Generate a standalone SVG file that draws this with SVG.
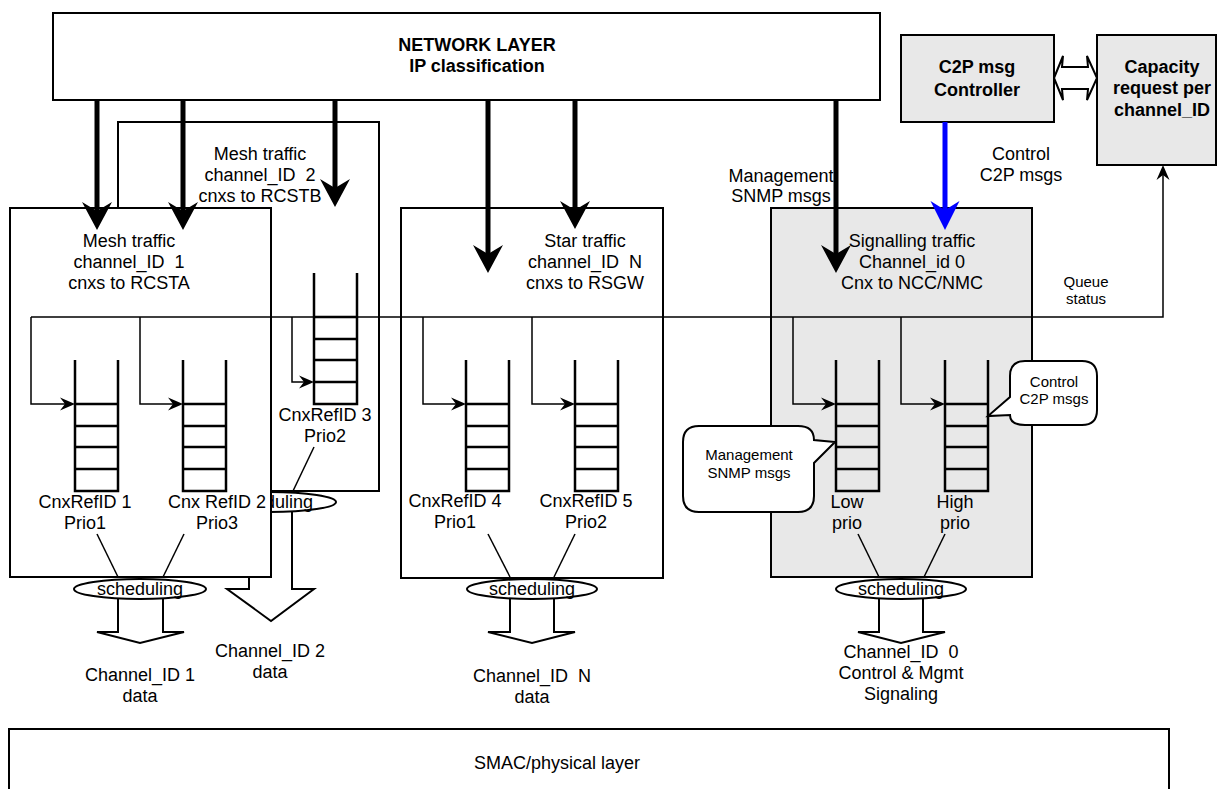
<svg xmlns="http://www.w3.org/2000/svg" width="1218" height="789" viewBox="0 0 1218 789">
<style>
text{font-family:"Liberation Sans",Arial,sans-serif;font-size:18px;fill:#000;text-anchor:middle}
.b{font-weight:bold}
.s{font-size:15px}
.box{fill:#fff;stroke:#000;stroke-width:2}
.grey{fill:#e8e8e8;stroke:#000;stroke-width:2}
.q{fill:none;stroke:#000;stroke-width:2.5}
.thin{fill:none;stroke:#000;stroke-width:1.5}
.heavy{fill:none;stroke:#000;stroke-width:5}
.blue{fill:none;stroke:#0000ff;stroke-width:5}
.ell{fill:#fff;stroke:#000;stroke-width:2}
.blk{fill:#fff;stroke:#000;stroke-width:2}
.lead{stroke:#000;stroke-width:1.5}
.call{fill:#fff;stroke:#000;stroke-width:2}
</style>
<defs>
<marker id="hv" markerUnits="userSpaceOnUse" orient="auto" overflow="visible" markerWidth="1" markerHeight="1"><path d="M8,0 L-20,-15 L-11,0 L-20,15 Z" fill="#000"/></marker>
<marker id="hb" markerUnits="userSpaceOnUse" orient="auto" overflow="visible" markerWidth="1" markerHeight="1"><path d="M8,0 L-21,-14.5 L-12,0 L-21,14.5 Z" fill="#0000ff"/></marker>
<marker id="th" markerUnits="userSpaceOnUse" orient="auto" overflow="visible" markerWidth="1" markerHeight="1"><path d="M4,0 L-11,-6.5 L-6,0 L-11,6.5 Z" fill="#000"/></marker>
<path id="queue" class="q" d="M0,0 V131 H43 V0 M0,44 H43 M0,66 H43 M0,87 H43 M0,109 H43"/>
<clipPath id="behind"><rect x="272" y="480" width="80" height="40"/></clipPath>
</defs>

<g id="smac">
<rect class="box" x="9" y="729" width="1160" height="80"/>
<text x="557" y="769">SMAC/physical layer</text>
</g>

<g id="network">
<rect class="box" x="53" y="13" width="827" height="87"/>
<text class="b" x="477" y="51">NETWORK LAYER</text>
<text class="b" x="477" y="72">IP classification</text>
</g>

<g id="c2p">
<rect class="grey" x="901" y="35" width="153" height="87"/>
<text class="b" x="977" y="73">C2P msg</text>
<text class="b" x="977" y="96">Controller</text>
</g>

<g id="capacity">
<rect class="grey" x="1097" y="35" width="119" height="130"/>
<text class="b" x="1162" y="73">Capacity</text>
<text class="b" x="1162" y="94">request per</text>
<text class="b" x="1162" y="116">channel_ID</text>
</g>

<g id="mesh2">
<rect class="box" x="118" y="122" width="261" height="369"/>
<text x="260" y="160">Mesh traffic</text>
<text x="260" y="181">channel_ID&#160; 2</text>
<text x="260" y="202">cnxs to RCSTB</text>
<use href="#queue" x="314" y="273"/>
<text x="325" y="421">CnxRefID 3</text>
<text x="325" y="442">Prio2</text>
<line class="lead" x1="314" y1="447" x2="293" y2="491"/>
<path class="blk" d="M249,512 V589 H227 L271,621 L314,589 H292 V512"/>
<ellipse class="ell" cx="270" cy="502" rx="66" ry="10"/>
<text x="270" y="508" clip-path="url(#behind)">scheduling</text>
</g>

<g id="mesh1">
<rect class="box" x="10" y="208" width="261" height="369"/>
<text x="129" y="247">Mesh traffic</text>
<text x="129" y="268">channel_ID&#160; 1</text>
<text x="129" y="289">cnxs to RCSTA</text>
<use href="#queue" x="75" y="360"/>
<use href="#queue" x="183" y="360"/>
<text x="85" y="508">CnxRefID 1</text>
<text x="85" y="529">Prio1</text>
<text x="217" y="508">Cnx RefID 2</text>
<text x="217" y="529">Prio3</text>
<line class="lead" x1="97" y1="534" x2="118" y2="577"/>
<line class="lead" x1="184" y1="534" x2="163" y2="577"/>
<path class="blk" d="M118,599 V632 H97 L140,643 L184,632 H163 V599"/>
<ellipse class="ell" cx="140" cy="589" rx="66" ry="10"/>
<text x="140" y="595">scheduling</text>
<text x="140" y="681">Channel_ID 1</text>
<text x="140" y="702">data</text>
<text x="270" y="657">Channel_ID 2</text>
<text x="270" y="678">data</text>
</g>

<g id="star">
<rect class="box" x="401" y="208" width="262" height="370"/>
<text x="585" y="247">Star traffic</text>
<text x="585" y="268">channel_ID&#160; N</text>
<text x="585" y="289">cnxs to RSGW</text>
<use href="#queue" x="466" y="360"/>
<use href="#queue" x="575" y="360"/>
<text x="455" y="507">CnxRefID 4</text>
<text x="455" y="528">Prio1</text>
<text x="586" y="507">CnxRefID 5</text>
<text x="586" y="528">Prio2</text>
<line class="lead" x1="488" y1="534" x2="510" y2="577"/>
<line class="lead" x1="575" y1="534" x2="554" y2="577"/>
<path class="blk" d="M510,599 V632 H488 L532,643 L575,632 H554 V599"/>
<ellipse class="ell" cx="532" cy="589" rx="65" ry="10"/>
<text x="532" y="595">scheduling</text>
<text x="532" y="682">Channel_ID&#160; N</text>
<text x="532" y="703">data</text>
</g>

<g id="signalling">
<rect class="grey" x="771" y="208" width="261" height="369"/>
<text x="912" y="247">Signalling traffic</text>
<text x="912" y="268">Channel_id 0</text>
<text x="912" y="289">Cnx to NCC/NMC</text>
<use href="#queue" x="836" y="360"/>
<use href="#queue" x="945" y="360"/>
<text x="847" y="508">Low</text>
<text x="847" y="529">prio</text>
<text x="955" y="508">High</text>
<text x="955" y="529">prio</text>
<line class="lead" x1="858" y1="534" x2="879" y2="577"/>
<line class="lead" x1="945" y1="534" x2="924" y2="577"/>
<path class="blk" d="M879,599 V632 H858 L901,643 L945,632 H923 V599"/>
<ellipse class="ell" cx="901" cy="589" rx="65" ry="10"/>
<text x="901" y="595">scheduling</text>
<text x="901" y="658">Channel_ID&#160; 0</text>
<text x="901" y="679">Control &amp; Mgmt</text>
<text x="901" y="700">Signaling</text>
</g>

<g id="callout-mgmt">
<path class="call" d="M699,426 H798 Q814,426 814,440 L835,442 L814,463 V496 Q814,512 798,512 H699 Q683,512 683,496 V442 Q683,426 699,426 Z"/>
<text class="s" x="749" y="460">Management</text>
<text class="s" x="749" y="478">SNMP msgs</text>
</g>

<g id="callout-ctrl">
<path class="call" d="M1025,361 H1082 Q1097,361 1097,376 V410 Q1097,425 1082,425 H1025 Q1010,425 1010,415 L988,416 L1010,397 V376 Q1010,361 1025,361 Z"/>
<text class="s" x="1054" y="387">Control</text>
<text class="s" x="1054" y="404">C2P msgs</text>
</g>

<g id="connectors">
<line class="heavy" x1="97" y1="100" x2="97" y2="222" marker-end="url(#hv)"/>
<line class="heavy" x1="183" y1="100" x2="183" y2="222" marker-end="url(#hv)"/>
<line class="heavy" x1="335" y1="100" x2="335" y2="199" marker-end="url(#hv)"/>
<line class="heavy" x1="488" y1="100" x2="488" y2="265" marker-end="url(#hv)"/>
<line class="heavy" x1="575" y1="100" x2="575" y2="221" marker-end="url(#hv)"/>
<line class="heavy" x1="836" y1="100" x2="836" y2="265" marker-end="url(#hv)"/>
<line class="blue" x1="945" y1="122" x2="945" y2="222" marker-end="url(#hb)"/>
<polygon class="blk" points="1054,78 1063,56 1062,67 1088,67 1087,56 1097,78 1087,100 1088,89 1062,89 1063,100"/>
<path class="thin" d="M31,317 H1163 V169" marker-end="url(#th)"/>
<path class="thin" d="M31,317 V404 H71" marker-end="url(#th)"/>
<path class="thin" d="M140,317 V404 H179" marker-end="url(#th)"/>
<path class="thin" d="M292,317 V382 H310" marker-end="url(#th)"/>
<path class="thin" d="M423,317 V404 H462" marker-end="url(#th)"/>
<path class="thin" d="M532,317 V404 H571" marker-end="url(#th)"/>
<path class="thin" d="M793,317 V404 H832" marker-end="url(#th)"/>
<path class="thin" d="M901,317 V404 H941" marker-end="url(#th)"/>
<text x="781" y="182">Management</text>
<text x="781" y="202">SNMP msgs</text>
<text x="1021" y="160">Control</text>
<text x="1021" y="181">C2P msgs</text>
<text class="s" x="1086" y="287">Queue</text>
<text class="s" x="1086" y="304">status</text>
</g>
</svg>
